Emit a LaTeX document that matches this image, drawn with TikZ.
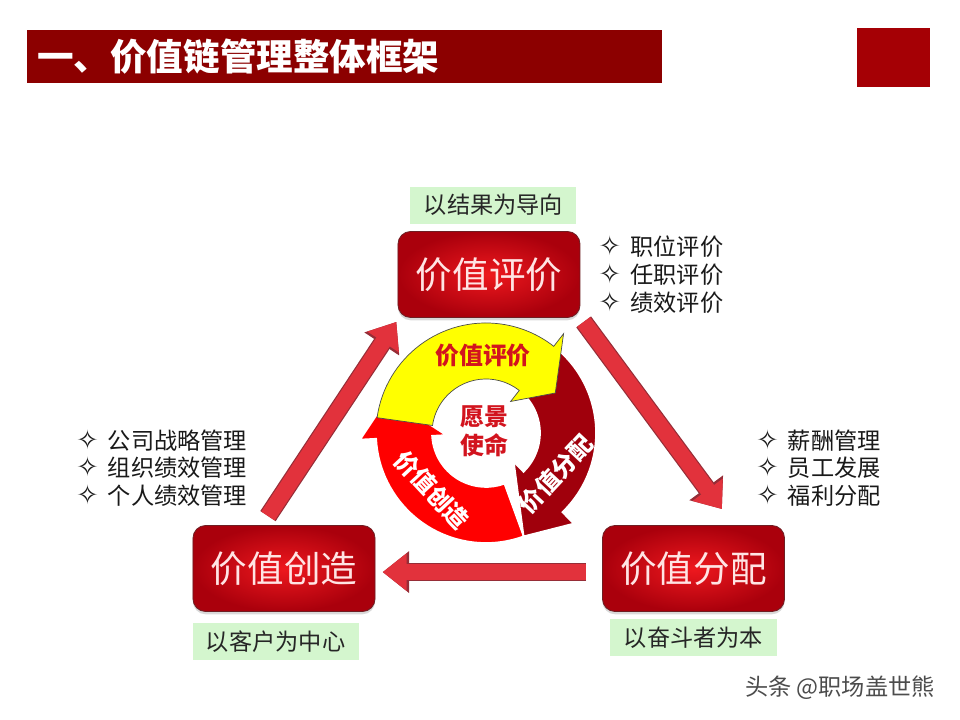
\documentclass[tikz,border=0pt]{standalone}
\usepackage{fontspec}
\setmainfont{Noto Sans CJK SC}
\newfontfamily\symfont{DejaVu Sans}
\usetikzlibrary{positioning,calc,arrows.meta,shadows}

\definecolor{titlered}{RGB}{140,0,0}
\definecolor{squarered}{RGB}{165,0,5}
\definecolor{mottogreen}{RGB}{212,246,206}
\definecolor{boxlight}{RGB}{238,24,30}
\definecolor{boxdark}{RGB}{170,0,12}
\definecolor{boxedge}{RGB}{110,30,35}
\definecolor{boxtext}{RGB}{255,228,228}
\definecolor{arrowred}{RGB}{226,50,60}
\definecolor{arrowedge}{RGB}{150,45,55}
\definecolor{ringyellow}{RGB}{255,255,0}
\definecolor{ringred}{RGB}{255,0,0}
\definecolor{ringdark}{RGB}{160,0,12}
\definecolor{labelred}{RGB}{210,20,30}

\tikzset{
  valuebox/.style  = {shape=rectangle, rounded corners=9pt,
                      draw=boxedge, line width=0.6pt,
                      inner color=boxlight, outer color=boxdark,
                      minimum width=4.55cm, minimum height=2.15cm,
                      text=boxtext, font=\fontsize{26}{30}\selectfont,
                      drop shadow={opacity=0.3, shadow xshift=0pt, shadow yshift=-2pt}},
  motto/.style     = {fill=mottogreen, minimum width=4.15cm, minimum height=0.93cm,
                      text=black!85, font=\fontsize{16.5}{20}\selectfont},
  items/.style     = {align=left, inner sep=0pt, text=black!90,
                      font=\fontsize{16.5}{19.8}\selectfont},
  bigarrow/.style  = {preaction={draw=arrowedge, line width=0.46cm,
                                 -{Triangle[width=1.0cm,length=0.66cm]}},
                      draw=arrowred, line width=0.4cm,
                      -{Triangle[width=0.9cm,length=0.6cm]}},
  cyclabel/.style  = {inner sep=0pt, font=\bfseries\fontsize{17}{20.5}\selectfont}
}

% bullet of the lists
\newcommand\bul{{\symfont\fontsize{19}{19}\selectfont ✧}\hspace{0.4em}}
% ring arrow: style, tail angle, head base angle, tip angle, tip radius
\newcommand\cycarrow[5]{%
  \filldraw[#1] ($(mid)+(#2:110)$) arc[start angle=#2, end angle=#3, radius=110]
    -- ($(mid)+(#3:126)$) -- ($(mid)+(#4:#5)$) -- ($(mid)+(#3:40)$)
    -- ($(mid)+(#3:54)$) arc[start angle=#3, end angle=#2, radius=54] -- cycle;}

\begin{document}
\begin{tikzpicture}[x=0.025cm, y=0.025cm]
  \useasboundingbox (0,0) rectangle (960,720);

  % title
  \fill[titlered] (27,637) rectangle (662,690);
  \fill[squarered] (857,633) rectangle (930,692);
  \node[anchor=west, inner sep=0pt, text=white,
        font=\bfseries\fontsize{26}{30}\selectfont] (title) at (37,663.5) {一、价值链管理整体框架};

  % the three stages
  \node[valuebox] (eval) at (489,445.5) {价值评价};
  \node[valuebox] (crt)  at (284,151.5) {价值创造};
  \node[valuebox] (dist) at (693.5,151.5) {价值分配};

  \node[motto, above=0.175cm of eval, xshift=0.11cm] (evalmotto) {以结果为导向};
  \node[motto, below=0.275cm of crt, xshift=-0.21cm] (crtmotto) {以客户为中心};
  \node[motto, below=0.175cm of dist] (distmotto) {以奋斗者为本};

  \node[items, right=0.45cm of eval] (evallist) {\bul 职位评价\\ \bul 任职评价\\ \bul 绩效评价};
  \node[items, anchor=west] (crtlist) at (76,252) {\bul 公司战略管理\\ \bul 组织绩效管理\\ \bul 个人绩效管理};
  \node[items, anchor=west] (distlist) at (756,252) {\bul 薪酬管理\\ \bul 员工发展\\ \bul 福利分配};

  % big arrows between the stages
  \draw[bigarrow] ([shift={(-0.4cm,0.225cm)}]crt.north) -- ([shift={(-0.03cm,-0.1cm)}]eval.south west);
  \draw[bigarrow] ([shift={(0.08cm,-0.1cm)}]eval.south east) -- ([shift={(0.71cm,0.4cm)}]dist.north);
  \draw[bigarrow] ([shift={(-0.4cm,-0.09cm)}]dist.west) -- ([shift={(0.18cm,-0.09cm)}]crt.east);

  % ring in the middle
  \coordinate (mid) at (486,287);
  \cycarrow{fill=ringred, draw=white, line width=1.2pt}{290}{183}{160}{104}
  \cycarrow{fill=ringdark, draw=white, line width=1.2pt}{48}{-46}{-70}{110}
  \cycarrow{fill=ringyellow, draw=black!70, line width=0.5pt}{172}{52}{30}{80}

  \node[cyclabel, text=labelred] (evalring) at (483,365) {价值评价};
  \node[cyclabel, text=white, rotate=47] (distring) at (556,246) {价值分配};
  \node[cyclabel, text=white, rotate=-47] (crtring) at (432,230) {价值创造};
  \node[cyclabel, text=labelred, align=center] (vision) at (484,289) {愿景\\使命};

  \node[text=black!70, font=\fontsize{16.5}{18}\selectfont] (mark) at (840,32) {头条 @职场盖世熊};
\end{tikzpicture}
\end{document}
